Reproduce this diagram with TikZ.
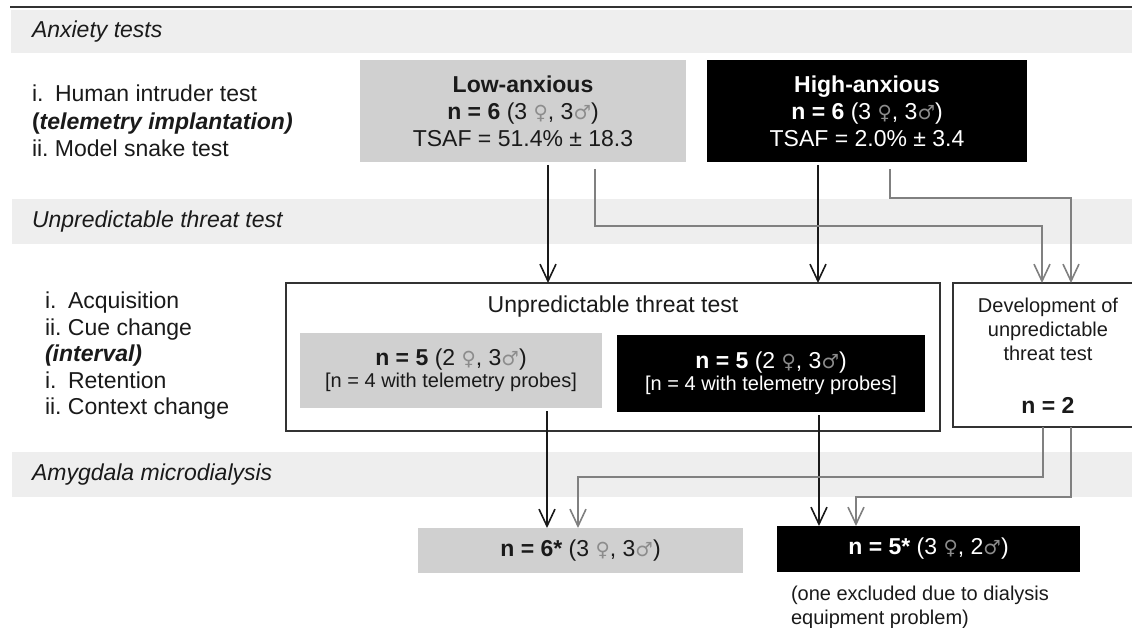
\documentclass[tikz,border=0pt]{standalone}
\usepackage{fontspec}
\setmainfont{Liberation Sans}
\newfontfamily\symf{DejaVu Sans}[Scale=0.85]
\usetikzlibrary{arrows.meta}
\definecolor{bandgray}{HTML}{EEEEEE}
\definecolor{boxgray}{HTML}{D0D0D0}
\definecolor{lingray}{HTML}{808080}
\definecolor{symgray}{HTML}{8C8C8C}
\definecolor{edgecol}{HTML}{333333}
\definecolor{inkcol}{HTML}{1A1A1A}
\newcommand{\fem}{\textcolor{symgray}{\symf\mdseries ♀}}
\newcommand{\mal}{\textcolor{symgray}{\symf\mdseries ♂}}
\newcommand{\lbl}[1]{\makebox[1em][l]{#1}}
\begin{document}
\begin{tikzpicture}[x=1pt,y=-1pt,
  every node/.style={inner sep=0pt, outer sep=0pt},
  big/.style={font=\fontsize{23}{27}\selectfont},
  small/.style={font=\fontsize{20}{24}\selectfont},
  bandlabel/.style={font=\fontsize{23}{27}\selectfont\itshape, anchor=west, text=inkcol},
  graybox/.style={fill=boxgray, draw=none, align=center, text=inkcol},
  blackbox/.style={fill=black, draw=none, align=center, text=white},
  frame/.style={draw=edgecol, line width=1.5pt, fill=none},
  blk/.style={draw=inkcol, line width=1.6pt, -{Straight Barb[length=17pt,width=16pt]}, shorten <=3pt},
  gry/.style={draw=lingray, line width=1.6pt, -{Straight Barb[length=17pt,width=16pt]}},
]
\clip (0,0) rectangle (1132,628);
\fill[white] (0,0) rectangle (1132,628);

% top rule and bands
\draw[edgecol, line width=2pt] (10,7) -- (1132,7);
\fill[bandgray] (11,10) rectangle (1132,53);
\fill[bandgray] (12,199) rectangle (1132,244);
\fill[bandgray] (12,452) rectangle (1132,497);
\node[bandlabel] (b1) at (32,31.5) {Anxiety tests};
\node[bandlabel] (b2) at (32,222) {Unpredictable threat test};
\node[bandlabel] (b3) at (32,475) {Amygdala microdialysis};

% left lists
\node[font=\fontsize{23}{27.5}\selectfont, align=left, anchor=west, text=inkcol] (list1) at (32,121)
  {\lbl{i.}Human intruder test\\ \textbf{(\textit{telemetry implantation)}}\\ \lbl{ii.}Model snake test};
\node[font=\fontsize{23}{26.5}\selectfont, align=left, anchor=west, text=inkcol] (list2) at (45,356)
  {\lbl{i.}Acquisition\\ \lbl{ii.}Cue change\\ \textbf{\textit{(interval)}}\\ \lbl{i.}Retention\\ \lbl{ii.}Context change};

% anxiety groups
\node[graybox, big, minimum width=326, minimum height=102] (low) at (523,111)
  {\textbf{Low-anxious}\\ \textbf{n = 6} (3 \fem, 3\mal)\\ TSAF = 51.4\% ± 18.3};
\node[blackbox, big, minimum width=320, minimum height=102] (high) at (867,111)
  {\textbf{High-anxious}\\ \textbf{n = 6} (3 \fem, 3\mal)\\ TSAF = 2.0\% ± 3.4};

% unpredictable threat test
\node[frame, minimum width=654, minimum height=148] (main) at (613,357) {};
\node[big, text=inkcol] (mtitle) at (613,307) {Unpredictable threat test};
\node[graybox, font=\fontsize{20}{22}\selectfont, minimum width=302, minimum height=75] (ig) at (451,370.5)
  {{\fontsize{23}{22}\selectfont\textbf{n = 5} (2 \fem, 3\mal)}\\ {[}n = 4 with telemetry probes{]}};
\node[blackbox, font=\fontsize{20}{22}\selectfont, minimum width=308, minimum height=77] (ib) at (771,373.5)
  {{\fontsize{23}{22}\selectfont\textbf{n = 5} (2 \fem, 3\mal)}\\ {[}n = 4 with telemetry probes{]}};

% development box
\node[frame, minimum width=192, minimum height=144] (dev) at (1049,355) {};
\node[small, align=center, text=inkcol] (devt) at (1048,329) {Development of\\ unpredictable\\ threat test};
\node[big, text=inkcol] (devn) at (1048,405) {\textbf{n = 2}};

% microdialysis
\node[graybox, big, minimum width=325, minimum height=45] (bg) at (580.5,550.5)
  {\textbf{n = 6*} (3 \fem, 3\mal)};
\node[blackbox, big, minimum width=303, minimum height=46] (bb) at (928.5,549)
  {\textbf{n = 5*} (3 \fem, 2\mal)};
\node[small, align=left, anchor=west, text=inkcol] (note) at (791,607)
  {(one excluded due to dialysis\\ equipment problem)};

% connectors
\draw[blk] ([xshift=25pt]low.south) -- ([xshift=25pt]low.south |- main.north);
\draw[blk] ([xshift=-49pt]high.south) -- ([xshift=-49pt]high.south |- main.north);
\draw[gry, shorten <=7pt] ([xshift=72pt]low.south) -- ++(0,64) -| ([xshift=-7pt]dev.north);
\draw[gry, shorten <=7pt] ([xshift=23pt]high.south) -- ++(0,36) -| ([xshift=22pt]dev.north);
\draw[blk] ([xshift=96pt]ig.south) -- ([xshift=96pt]ig.south |- bg.north);
\draw[blk] ([xshift=48pt]ib.south) -- ([xshift=48pt]ib.south |- bb.north);
\draw[gry] ([xshift=-6pt]dev.south) -- ++(0,50) -| ([xshift=-2.5pt]bg.north);
\draw[gry] ([xshift=22pt]dev.south) -- ++(0,70) -| ([xshift=-72.5pt]bb.north);
\end{tikzpicture}
\end{document}
